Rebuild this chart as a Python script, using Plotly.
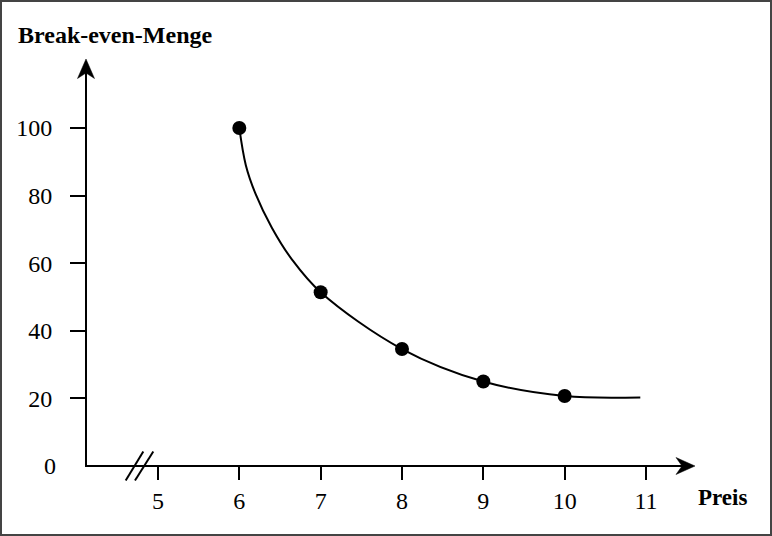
import plotly.graph_objects as go

# Data
preis = [6, 7, 8, 9, 10]
menge = [100, 51.4, 34.6, 25.0, 20.7]
# curve trace (passes through the points, ends ~10.93)
curve_x = [6, 6.08, 6.2, 6.4, 6.65, 7, 8, 9, 10, 10.93]
curve_y = [100, 89, 80.5, 70.5, 61, 51.4, 34.6, 25.0, 20.7, 20.3]

x_ticks = [5, 6, 7, 8, 9, 10, 11]
y_ticks = [20, 40, 60, 80, 100]

FONT = "Liberation Serif"
x_range = [4.115, 11.664]
y_range = [0, 120.1]
L, R, T, B = 86, 72, 60, 70
W, H = 772, 536
pw, ph = W - L - R, H - T - B

def px(p):
    return (p - L) / pw

def py(p):
    return (H - B - p) / ph

def path(points):
    return "M " + " L ".join(f"{px(a):.5f},{py(b):.5f}" for a, b in points) + " Z"

fig = go.Figure()
fig.add_trace(go.Scatter(x=curve_x, y=curve_y, mode="lines",
                         line=dict(color="black", width=2, shape="spline", smoothing=1.0),
                         hoverinfo="skip", showlegend=False))
fig.add_trace(go.Scatter(x=preis, y=menge, mode="markers",
                         marker=dict(color="black", size=14),
                         showlegend=False))

# axis lines
fig.add_shape(type="line", xref="paper", yref="paper", x0=px(86), y0=py(466),
              x1=px(683), y1=py(466), line=dict(color="black", width=2))
fig.add_shape(type="line", xref="paper", yref="paper", x0=px(86), y0=py(467),
              x1=px(86), y1=py(72), line=dict(color="black", width=2))
# arrowheads (barbed)
fig.add_shape(type="path", xref="paper", yref="paper",
              path=path([(695, 466), (676, 457.5), (682, 466), (676, 474.5)]),
              fillcolor="black", line=dict(color="black", width=0.5))
fig.add_shape(type="path", xref="paper", yref="paper",
              path=path([(86, 59), (77.5, 78.5), (86, 73), (94.5, 78.5)]),
              fillcolor="black", line=dict(color="black", width=0.5))

# axis break marks
for x0p, x1p in [(125.7, 143.3), (135.0, 153.3)]:
    fig.add_shape(type="line", xref="paper", yref="paper",
                  x0=px(x0p), y0=py(480.5), x1=px(x1p), y1=py(451.5),
                  line=dict(color="black", width=2))

# "0" label
fig.add_annotation(x=0, y=0, xref="paper", yref="y", text="0", showarrow=False,
                   xanchor="right", xshift=-28, font=dict(family=FONT, size=24, color="black"))

# titles
fig.add_annotation(x=px(16), y=py(35), xref="paper", yref="paper",
                   text="<b>Break-even-Menge</b>", showarrow=False, xanchor="left",
                   yanchor="middle", font=dict(family=FONT, size=24, color="black"))
fig.add_annotation(x=px(696), y=py(498), xref="paper", yref="paper",
                   text="<b>Preis</b>", showarrow=False, xanchor="left",
                   yanchor="middle", font=dict(family=FONT, size=23, color="black"))

# frame
fig.add_shape(type="rect", xref="paper", yref="paper",
              x0=px(1), x1=px(771), y0=py(535), y1=py(1),
              line=dict(color="#444444", width=2))

fig.update_layout(
    width=W, height=H, margin=dict(l=L, r=R, t=T, b=B),
    paper_bgcolor="white", plot_bgcolor="white",
    font=dict(family=FONT, size=24, color="black"),
    xaxis=dict(range=x_range, tickvals=x_ticks, ticktext=[str(v) for v in x_ticks],
               ticks="outside", ticklen=13, tickwidth=2, tickcolor="black",
               showgrid=False, zeroline=False, showline=False, ticklabelstandoff=0,
               fixedrange=True),
    yaxis=dict(range=y_range, tickvals=y_ticks, ticktext=[str(v) for v in y_ticks],
               ticks="outside", ticklen=15, tickwidth=2, tickcolor="black",
               showgrid=False, zeroline=False, showline=False, ticklabelstandoff=13,
               fixedrange=True),
)

fig.write_html("out.html")
